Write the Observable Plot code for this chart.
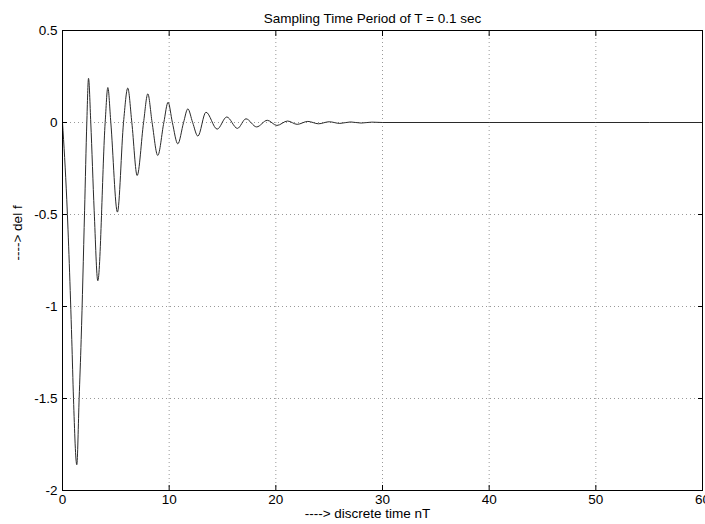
<!DOCTYPE html>
<html>
<head>
<meta charset="utf-8">
<script src="https://cdn.jsdelivr.net/npm/d3@7"></script>
<script src="https://cdn.jsdelivr.net/npm/@observablehq/plot@0.6"></script>
<style>
  html, body { margin: 0; padding: 0; background: #fff; }
  svg { display: block; }
</style>
</head>
<body>
<div id="chart"></div>
<script>
// ---- data ----
const titleText = ["Sampling Time Period of T = 0.1 sec"];
const xLabelText = ["----> discrete time nT"];
const yLabelText = ["----> del f"];

const xTicks = [0, 10, 20, 30, 40, 50, 60];
const yTicks = [0.5, 0, -0.5, -1, -1.5, -2];

// discrete time nT (sec) and del f values along the response
const timeNT = [0, 0.4, 0.87, 1.03, 1.34, 1.56, 1.75, 2.07, 2.28, 2.44, 2.65, 2.97, 3.31,
  4.0, 4.25, 4.53, 5.15, 5.72, 6.12, 6.5, 7.0, 7.6, 8.0, 8.4, 8.93, 9.5, 9.9, 10.3, 10.81,
  11.35, 11.75, 12.2, 12.69, 13.45, 14.5, 15.4, 16.4, 17.2, 18.2, 19.2, 20.1, 21.1, 22.0,
  23.0, 24.0, 25.0, 26.0, 27.0, 28.0, 29.0, 30.0, 40.0, 50.0, 60.0];
const delF = [0, -0.42, -1.18, -1.5, -1.86, -1.5, -1.18, -0.48, 0, 0.24, 0, -0.48, -0.86,
  0, 0.19, 0, -0.487, 0, 0.187, 0, -0.288, 0, 0.156, 0, -0.179, 0, 0.11, 0, -0.116,
  0, 0.074, 0, -0.074, 0.056, -0.036, 0.03, -0.032, 0.02, -0.024, 0.012, -0.016, 0.008, -0.01,
  0.006, -0.007, 0.004, -0.005, 0.003, -0.003, 0.002, 0, 0, 0, 0];

const series = timeNT.map((t, i) => ({t, f: delF[i]}));

const fontFamily = "'Liberation Sans', Arial, Helvetica, sans-serif";
const fs = 13.5;

const chart = Plot.plot({
  width: 705,
  height: 524,
  marginLeft: 62,
  marginRight: 3,
  marginTop: 30,
  marginBottom: 34,
  style: {fontFamily, fontSize: fs + "px", color: "#000", background: "#fff"},
  x: {domain: [0, 60], ticks: xTicks, label: null},
  y: {domain: [-2, 0.5], ticks: yTicks, label: null},
  marks: [
    Plot.gridX(xTicks.slice(1, -1), {stroke: "#999", strokeOpacity: 1, strokeDasharray: "1,3"}),
    Plot.gridY(yTicks.slice(1, -1), {stroke: "#999", strokeOpacity: 1, strokeDasharray: "1,3"}),
    Plot.axisX(xTicks, {anchor: "bottom", tickSize: -5, tickPadding: 9, tickFormat: d => String(d), stroke: "#000", fontSize: fs}),
    Plot.axisX(xTicks, {anchor: "top", tickSize: -5, tickFormat: () => "", stroke: "#000"}),
    Plot.axisY(yTicks, {anchor: "left", tickSize: -5, tickPadding: 10, tickFormat: d => String(d), stroke: "#000", fontSize: fs}),
    Plot.axisY(yTicks, {anchor: "right", tickSize: -5, tickFormat: () => "", stroke: "#000"}),
    Plot.line(series, {x: "t", y: "f", curve: "monotone-x", stroke: "#2a2a2a", strokeWidth: 1}),
    Plot.frame({stroke: "#000"}),
    Plot.text(titleText, {text: d => d, frameAnchor: "top", dx: -10, dy: -17, fontSize: fs}),
    Plot.text(xLabelText, {text: d => d, frameAnchor: "bottom", dx: -15, dy: 27, fontSize: fs}),
    Plot.text(yLabelText, {text: d => d, frameAnchor: "left", dx: -45, rotate: -90, fontSize: fs})
  ]
});

document.getElementById("chart").appendChild(chart);
</script>
</body>
</html>
